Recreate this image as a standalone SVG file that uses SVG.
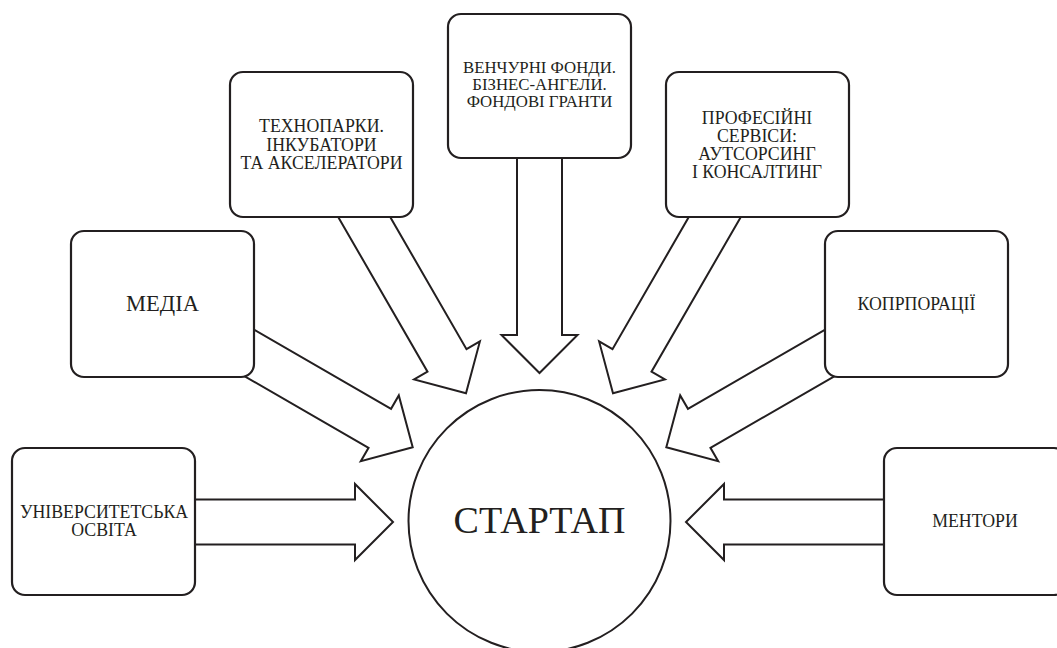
<svg xmlns="http://www.w3.org/2000/svg" width="1057" height="648" viewBox="0 0 1057 648">
<style>
.arrow{fill:#fff;stroke:#231f20;stroke-width:2;stroke-linejoin:miter}
.box{fill:#fff;stroke:#231f20;stroke-width:2.2}
.t{font-family:'Liberation Serif',Tinos,'Times New Roman','DejaVu Serif',serif;font-size:17.8px;fill:#231f20;text-anchor:middle}
.mid{font-size:16.8px}
.big{font-size:22.5px}
.huge{font-size:38px}
</style>
<rect width="1057" height="648" fill="#fff"/>
<g id="connectors">
<polygon class="arrow" points="150,499.5 355,499.5 355,484 393,522 355,560 355,544.5 150,544.5"/>
<polygon class="arrow" points="929,499.5 724,499.5 724,484 686,522 724,560 724,544.5 929,544.5"/>
<polygon class="arrow" points="517,140 517,335 501.5,335 539.5,373 577.5,335 562,335 562,140"/>
<polygon class="arrow" points="328.5,200.2 427.5,371.65 414.1,379.4 466,393.3 479.9,341.4 466.5,349.15 367.5,177.7"/>
<polygon class="arrow" points="750.5,200.2 651.5,371.65 664.9,379.4 613,393.3 599.1,341.4 612.5,349.15 711.5,177.7"/>
<polygon class="arrow" points="235.2,318.8 391.05,408.8 398.8,395.4 412.7,447.3 360.8,461.2 368.55,447.8 212.7,357.8"/>
<polygon class="arrow" points="843.8,318.8 687.95,408.8 680.2,395.4 666.3,447.3 718.2,461.2 710.45,447.8 866.3,357.8"/>
</g>
<g id="node-university">
<rect class="box" x="12" y="448" width="183" height="147" rx="13"/>
<text class="t" x="104" y="518">УНІВЕРСИТЕТСЬКА</text>
<text class="t" x="104" y="536">ОСВІТА</text>
</g>
<g id="node-media">
<rect class="box" x="71" y="231" width="183" height="146" rx="13"/>
<text class="t big" x="162.5" y="311">МЕДІА</text>
</g>
<g id="node-technoparks">
<rect class="box" x="230" y="72" width="183" height="145" rx="13"/>
<text class="t" x="321.5" y="132">ТЕХНОПАРКИ.</text>
<text class="t" x="321.5" y="150.5">ІНКУБАТОРИ</text>
<text class="t" x="321.5" y="169">ТА АКСЕЛЕРАТОРИ</text>
</g>
<g id="node-venture">
<rect class="box" x="448" y="14" width="183" height="144" rx="13"/>
<text class="t mid" x="539.5" y="73">ВЕНЧУРНІ ФОНДИ.</text>
<text class="t mid" x="539.5" y="90">БІЗНЕС-АНГЕЛИ.</text>
<text class="t mid" x="539.5" y="107">ФОНДОВІ ГРАНТИ</text>
</g>
<g id="node-services">
<rect class="box" x="666" y="72" width="183" height="145" rx="13"/>
<text class="t" x="757" y="123.5">ПРОФЕСІЙНІ</text>
<text class="t" x="757" y="141.5">СЕРВІСИ:</text>
<text class="t" x="757" y="159.5">АУТСОРСИНГ</text>
<text class="t" x="757" y="178">І КОНСАЛТИНГ</text>
</g>
<g id="node-corporations">
<rect class="box" x="825" y="231" width="183" height="146" rx="13"/>
<text class="t" x="916.5" y="310">КОПРПОРАЦІЇ</text>
</g>
<g id="node-mentors">
<rect class="box" x="884" y="448" width="183" height="147" rx="13"/>
<text class="t" x="975" y="527">МЕНТОРИ</text>
</g>
<g id="node-startup">
<circle cx="539.5" cy="521" r="131" fill="#fff" stroke="#231f20" stroke-width="2"/>
<text class="t huge" x="539.5" y="533">СТАРТАП</text>
</g>
</svg>
